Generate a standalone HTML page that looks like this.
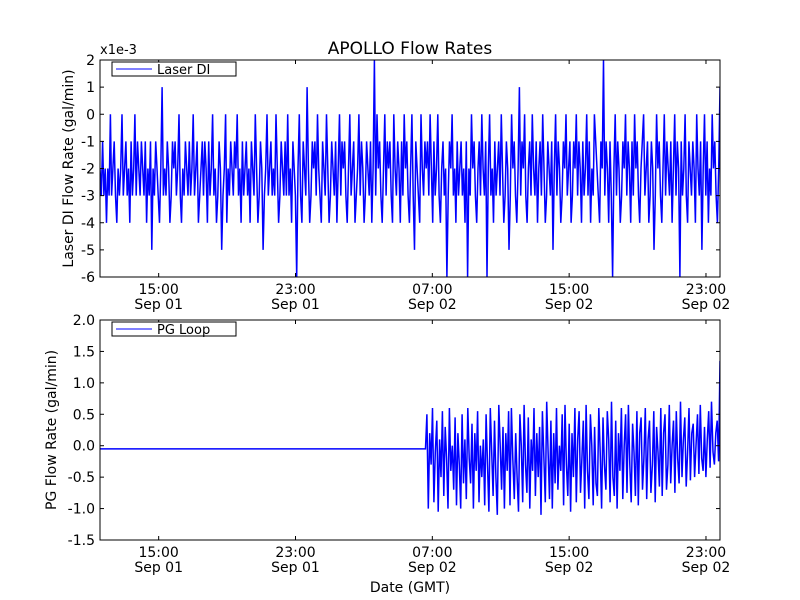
<!DOCTYPE html>
<html><head><meta charset="utf-8"><style>
body{margin:0;background:#fff;}
svg{display:block;font-family:"DejaVu Sans","Liberation Sans",sans-serif;}
</style></head><body>
<svg id="chart" width="800" height="600" viewBox="0 0 800 600">
<rect width="800" height="600" fill="#fff"/>
<text x="410" y="54" font-size="17" text-anchor="middle">APOLLO Flow Rates</text>
<text x="100" y="54" font-size="13">x1e-3</text>
<g id="top"></g>
<g id="bot"></g>
<text x="410" y="592" font-size="14" text-anchor="middle">Date (GMT)</text>
</svg>
<script>
const xTickHours=[15,23,31,39,47];
const xTickTimes=["15:00","23:00","07:00","15:00","23:00"];
const xTickDates=["Sep 01","Sep 01","Sep 02","Sep 02","Sep 02"];
const topYTicks=[2,1,0,-1,-2,-3,-4,-5,-6];
const botYTicks=[2.0,1.5,1.0,0.5,0.0,-0.5,-1.0,-1.5];
const laserValues=[
-2,-3,-1,-3,-2,-4,-2,-3,0,-3,-2,-1,-3,-4,-2,-3,-2,0,-3,-2,
-1,-3,-2,-4,-1,-3,-2,0,-3,-1,-2,-3,-1,-2,-3,-1,-4,-2,-3,-1,
-5,-2,-3,-1,-2,-3,-4,-2,1,-3,-2,-3,-1,-2,-4,-3,-1,-2,-1,-3,
-2,0,-3,-4,-2,-3,-1,-2,-3,-1,-3,-2,0,-3,-2,-1,-4,-3,-2,-1,
-3,-1,-2,-4,-1,-3,-2,0,-3,-2,-4,-3,-1,-2,-5,-3,-2,0,-4,-2,
-3,-1,-2,-3,-1,-2,0,-3,-2,-4,-1,-3,-2,-1,-3,-2,-4,-1,-2,-3,
0,-2,-4,-3,-1,-2,-5,-3,-2,0,-3,-2,-1,-3,-2,-3,0,-2,-4,-3,
-1,-2,-3,-1,-3,0,-3,-2,-4,-1,-2,-3,-6,-2,0,-3,-4,-1,-2,-3,
1,-2,-4,-3,-1,-2,-1,-3,0,-2,-3,-4,-1,-2,-3,0,-2,-4,-3,-1,
-2,-3,-1,-4,-2,0,-3,-1,-2,-1,-3,-4,-2,0,-3,-2,-1,-4,-3,-2,
0,-3,-1,-2,-4,-3,-1,-2,-3,-1,-4,-2,2,-3,0,-2,-1,-3,-4,-2,
0,-3,-1,-2,-1,-3,-4,0,-2,-3,-1,-2,-4,-1,-3,0,-2,-1,-3,-4,
-2,0,-3,-5,-1,-2,-3,-4,0,-2,-3,-1,-2,-1,-3,0,-2,-4,-1,-3,
-2,0,-3,-4,-2,-1,-3,-2,-6,-3,-1,-2,0,-3,-2,-4,-1,-3,-2,-1,
-3,-2,-4,-1,-6,-2,-3,0,-2,-1,-3,-4,-2,-1,-3,0,-2,-3,-1,-6,
-2,0,-3,-2,-4,-1,-3,-2,-1,-3,0,-2,-4,-3,-1,-2,-5,-3,0,-2,
-1,-3,-4,-2,1,-3,-1,-2,0,-3,-4,-2,-1,-3,0,-2,-3,-1,-4,-2,
-1,-3,0,-2,-4,-3,-1,-2,-3,-1,-5,-2,0,-3,-1,-2,-4,-3,-1,-2,
0,-3,-2,-1,-4,-3,-1,-2,0,-3,-1,-2,-4,-1,-3,-2,0,-3,-1,-4,
-2,-3,0,-1,-2,-3,-4,-1,-2,2,-3,-1,-2,-4,-1,-3,-6,-2,0,-3,
-1,-2,-4,-3,-1,-2,0,-3,-1,-2,-4,-1,-3,0,-2,-1,-3,-4,-2,-1,
0,-3,-2,-1,-4,-3,-1,-2,-5,-3,0,-2,-1,-3,-4,-2,0,-3,-1,-2,
-3,-1,-4,-2,0,-3,-1,-2,-6,-1,-3,-2,0,-3,-4,-1,-2,-3,-1,-2,
-4,0,-2,-3,-1,-5,-2,0,-3,-1,-4,-2,-3,0,-2,-1,-3,-4,-2,1];
const pgFlatValue=-0.05;
const pgFlatEndHour=30.6;
const pgValues=[
0.5,-1.0,0.2,-0.3,0.6,-0.9,-0.1,0.4,-1.05,0.1,-0.5,0.55,-0.8,0.3,-0.2,-1.0,0.6,-0.4,0.0,-0.7,
0.45,-0.95,0.2,-0.3,-1.0,0.5,-0.6,0.1,-0.85,0.6,-0.2,-0.6,0.35,-1.0,0.2,-0.4,0.55,-0.9,0.0,-0.5,
0.1,-0.95,0.5,-0.3,-1.05,0.6,-0.1,-0.8,0.4,-0.5,-1.1,0.65,0.0,-0.7,0.3,-1.0,0.2,-0.4,0.55,-0.95,
0.6,-0.2,-0.85,0.2,-0.5,-1.05,0.5,0.0,-0.9,0.65,-0.3,-0.75,0.45,-1.0,0.1,-0.4,0.6,-0.8,0.2,-0.5,
0.3,-1.1,0.55,-0.2,-0.9,0.7,-0.1,-0.85,0.4,-1.0,0.2,-0.6,0.6,-0.7,0.0,-0.4,0.5,-0.95,0.65,-0.3,
-0.8,0.35,-1.05,0.2,-0.5,0.6,-0.9,0.1,0.55,-0.75,-0.2,0.4,-1.0,0.65,-0.4,-0.85,0.5,0.0,-0.95,0.3,
-0.6,-0.8,0.6,-0.1,-1.0,0.45,-0.3,-0.7,0.55,0.1,-0.9,0.7,-0.5,-0.8,0.4,-1.0,0.2,-0.4,0.6,-0.85,
0.0,0.5,-0.75,0.65,-0.3,-0.9,0.35,-0.1,-0.8,0.55,-0.95,0.2,0.45,-0.7,-0.2,0.6,-0.85,0.1,0.4,-0.75,
-0.3,0.55,-0.9,0.3,-0.1,-0.65,0.6,-0.8,0.2,0.5,-0.7,-0.3,0.65,-0.6,0.0,0.4,-0.75,0.55,-0.2,-0.6,
0.7,-0.5,0.1,0.45,-0.65,-0.1,0.6,-0.55,0.2,0.35,-0.5,0.0,0.5,-0.45,0.65,-0.2,-0.4,0.3,-0.5,0.1,
0.55,-0.35,0.7,-0.1,-0.3,0.2,0.4,-0.25,1.35];
const H0=11.57,H1=47.82;
const NS="http://www.w3.org/2000/svg";
const L=100,R=720;
function xs(h){return L+(h-H0)/(H1-H0)*(R-L);}
function mk(tag,attrs,parent){const e=document.createElementNS(NS,tag);for(const k in attrs)e.setAttribute(k,attrs[k]);parent.appendChild(e);return e;}
function panel(g,top,bottom,ymax,ymin,yticks,fmt,ylabel,ylx,legend,name){
  const ys=v=>top+(ymax-v)/(ymax-ymin)*(bottom-top);
  const clipId=name+"-clip";
  const cp=mk("clipPath",{id:clipId},g);mk("rect",{x:L,y:top,width:R-L,height:bottom-top},cp);
  const series=mk("path",{fill:"none",stroke:"#0000ff","stroke-width":1.5,"stroke-linejoin":"miter","clip-path":"url(#"+clipId+")"},g);
  
  
  const frame=mk("rect",{x:L,y:top,width:R-L,height:bottom-top,fill:"none",stroke:"#000"},g);
  
  
  yticks.forEach(v=>{const y=ys(v);
    mk("line",{x1:L,x2:L+4,y1:y,y2:y,stroke:"#000"},g);mk("line",{x1:R-4,x2:R,y1:y,y2:y,stroke:"#000"},g);
    const t=mk("text",{x:L-5,y:y+5,"font-size":14,"text-anchor":"end"},g);t.textContent=fmt(v);
    
    
  });
  xTickHours.forEach((h,i)=>{const x=xs(h);
    mk("line",{x1:x,x2:x,y1:bottom,y2:bottom-4,stroke:"#000"},g);mk("line",{x1:x,x2:x,y1:top,y2:top+4,stroke:"#000"},g);
    const t=mk("text",{x:x,y:bottom+17,"font-size":14,"text-anchor":"middle"},g);t.textContent=xTickTimes[i];
    
    
    const d=mk("text",{x:x,y:bottom+32,"font-size":14,"text-anchor":"middle"},g);d.textContent=xTickDates[i];
    
    
  });
  const yl=mk("text",{x:0,y:0,"font-size":14,"text-anchor":"middle",transform:`translate(${ylx},${(top+bottom)/2}) rotate(-90)`},g);yl.textContent=ylabel;
  
  
  const lg=mk("g",{},g);
  
  
  mk("rect",{x:112,y:top+2,width:124,height:14,fill:"#fff",stroke:"#000"},lg);
  mk("line",{x1:116,x2:152,y1:top+9,y2:top+9,stroke:"#0000ff"},lg);
  const lt=mk("text",{x:157,y:top+14,"font-size":13},lg);lt.textContent=legend;
  return {ys,series};
}
const tp=panel(document.getElementById("top"),60,277,2,-6,topYTicks,v=>String(v),"Laser DI Flow Rate (gal/min)",73,"Laser DI","laser-di");
let d="";
laserValues.forEach((v,i)=>{const h=H0+(H1-H0)*i/(laserValues.length-1);d+=(i?"L":"M")+xs(h).toFixed(1)+","+tp.ys(v).toFixed(1);});
tp.series.setAttribute("d",d);
const bp=panel(document.getElementById("bot"),320,540,2,-1.5,botYTicks,v=>v.toFixed(1),"PG Flow Rate (gal/min)",56,"PG Loop","pg-loop");
d="M"+xs(H0)+","+bp.ys(pgFlatValue)+"L"+xs(pgFlatEndHour)+","+bp.ys(pgFlatValue);
pgValues.forEach((v,i)=>{const h=pgFlatEndHour+(H1-pgFlatEndHour)*(i+1)/pgValues.length;d+="L"+xs(h).toFixed(1)+","+bp.ys(v).toFixed(1);});
bp.series.setAttribute("d",d);
</script>
</body></html>
